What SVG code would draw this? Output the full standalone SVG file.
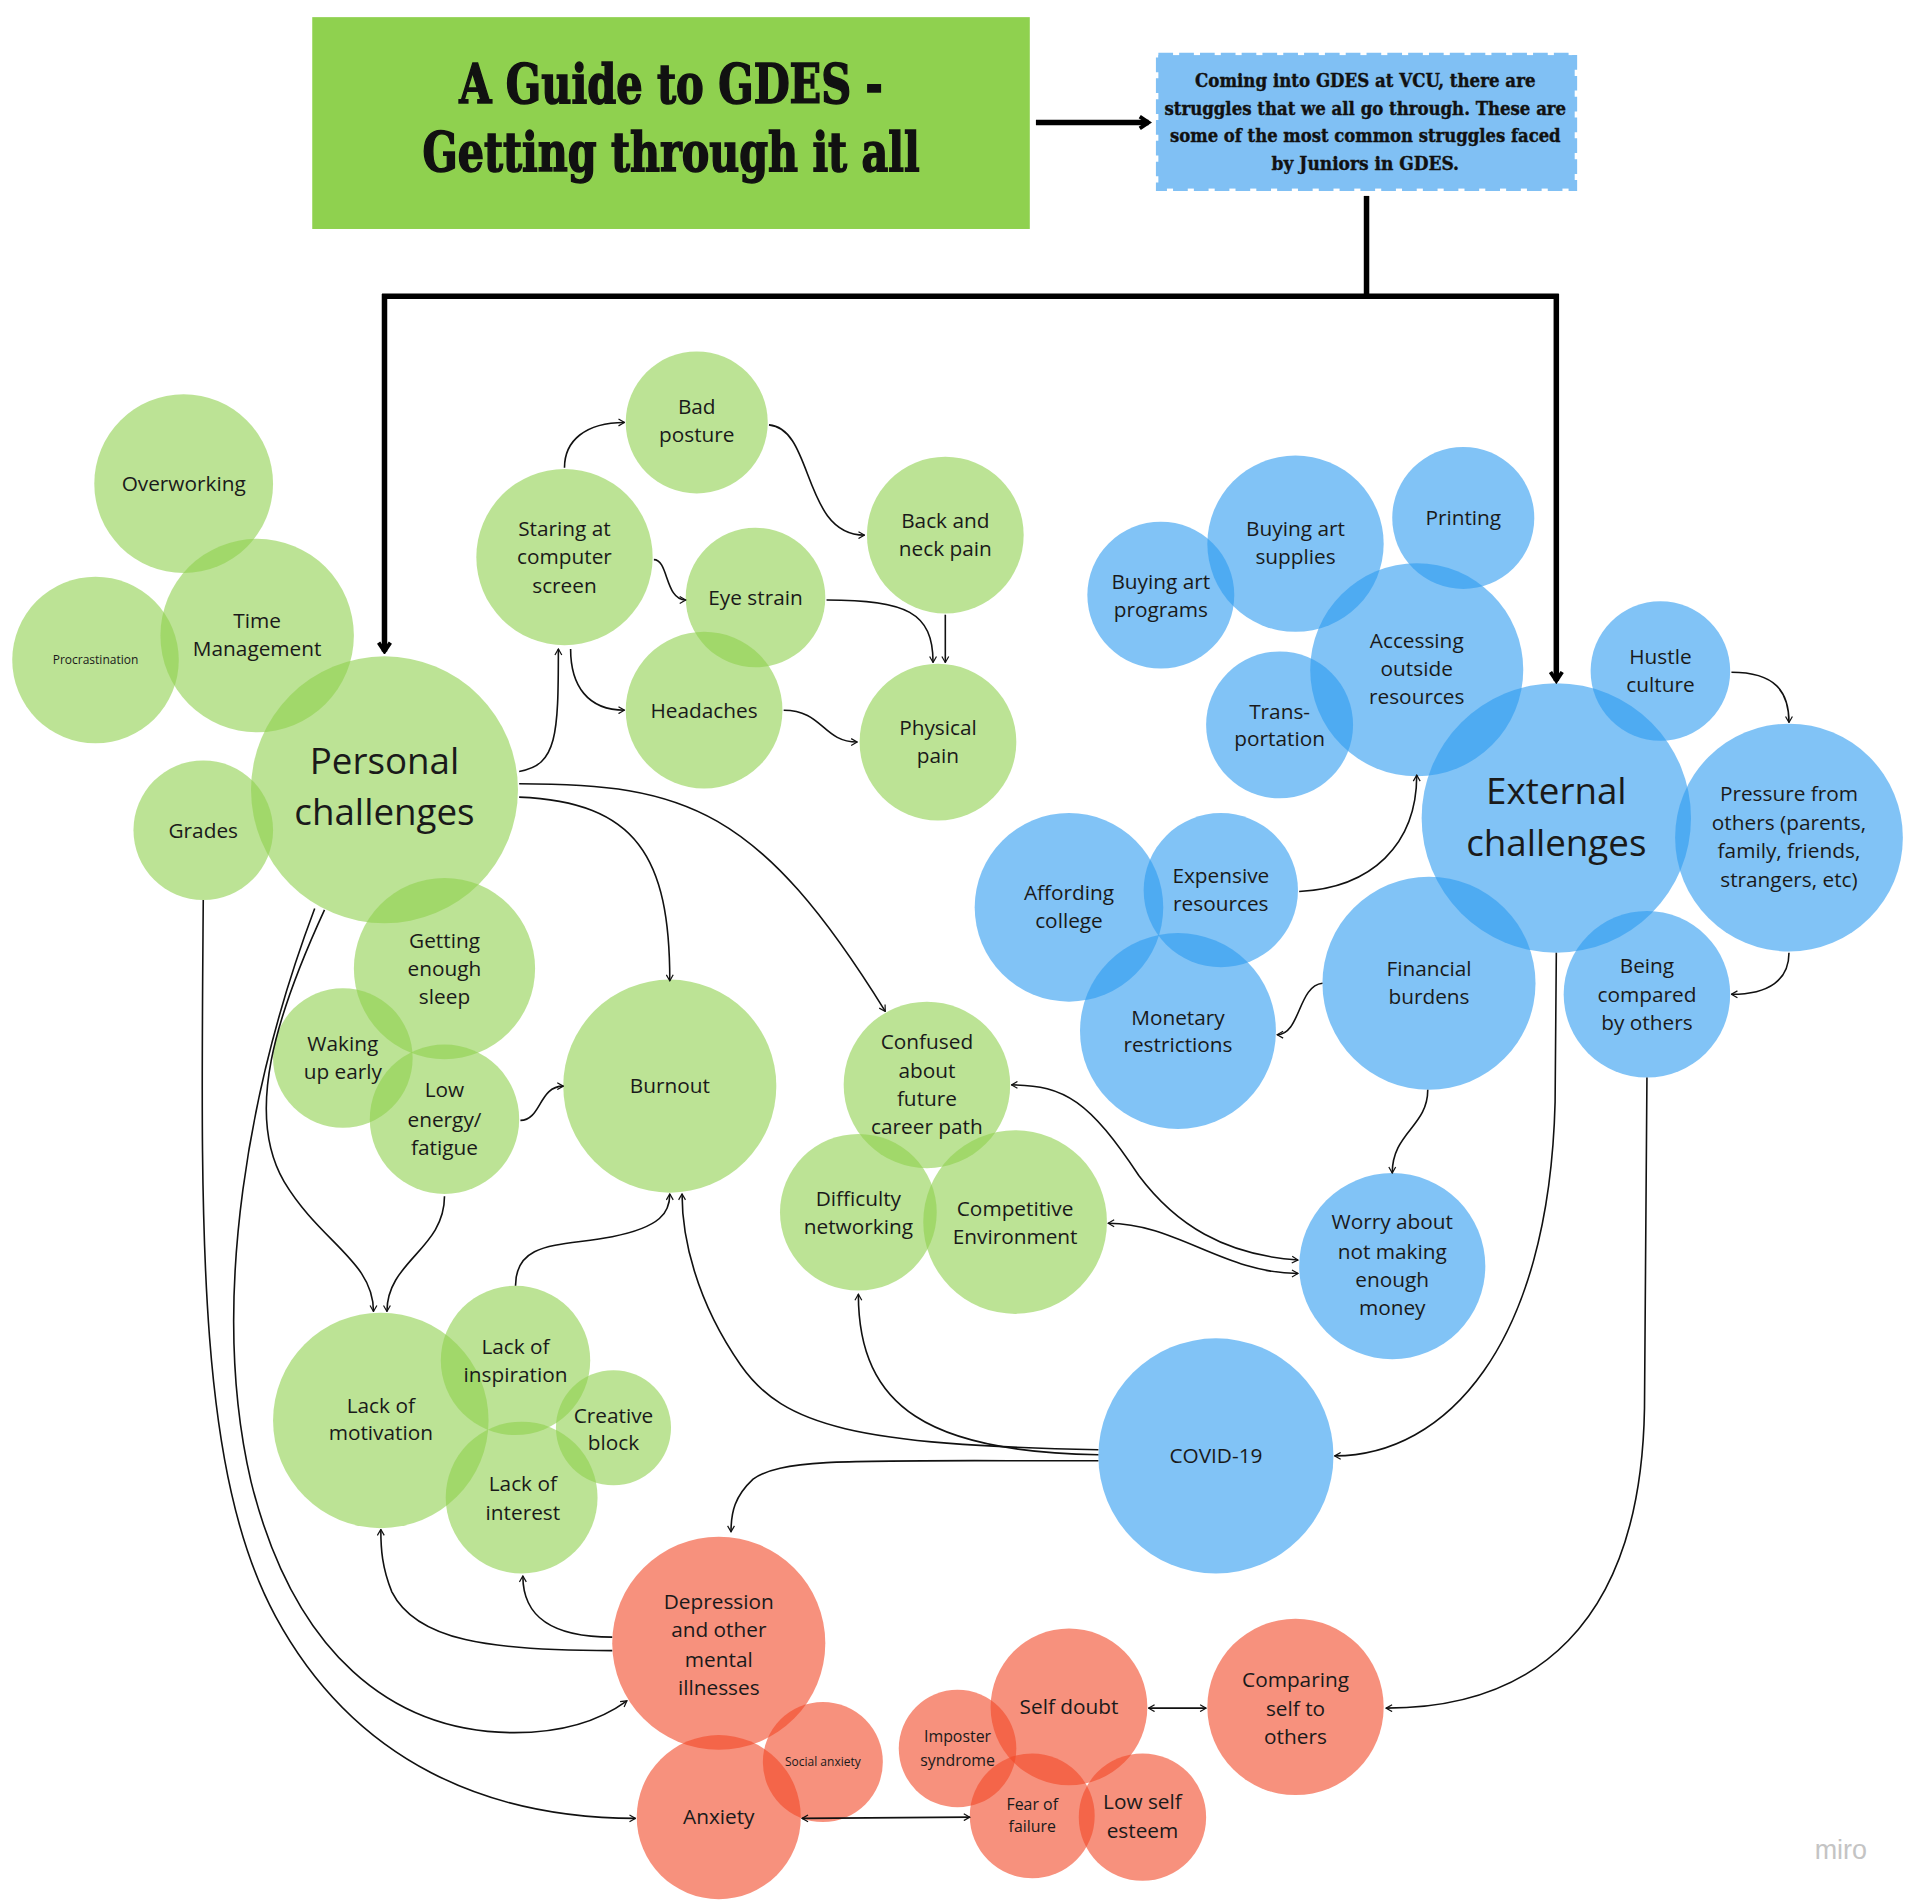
<svg xmlns="http://www.w3.org/2000/svg" width="1920" height="1904" viewBox="0 0 1920 1904">
<style>
.g{fill:#8fd14f;fill-opacity:.6}
.b{fill:#2d9bf0;fill-opacity:.6}
.r{fill:#f24726;fill-opacity:.6}
text{font-family:"Open Sans","Noto Sans",sans-serif;font-size:17px;fill:#1a1a1a;text-anchor:middle}
.big{font-size:30px}
.sm{font-size:13px}
.xs{font-size:9.8px}
.ser{font-family:"DejaVu Serif Condensed","DejaVu Serif","Liberation Serif",serif;font-weight:bold;fill:#111}
.t1{font-size:44px;stroke:#111;stroke-width:1.2}
.t2{font-size:15px;stroke:#111;stroke-width:.3}
.conn path{fill:none;stroke:#111;stroke-width:1.3}
.thick path{fill:none;stroke:#000;stroke-width:4.5}
.wm{font-family:"Liberation Sans",sans-serif;font-size:22px;fill:#c4c4c4;text-anchor:start}
</style>
<defs>
<marker id="a" viewBox="0 0 10 10" refX="9" refY="5" markerWidth="7" markerHeight="7" markerUnits="userSpaceOnUse" orient="auto-start-reverse"><path d="M2,1 L9,5 L2,9" fill="none" stroke="#111" stroke-width="1.4"/></marker>
<marker id="T" viewBox="0 0 10 10" refX="8" refY="5" markerWidth="12" markerHeight="12" markerUnits="userSpaceOnUse" orient="auto"><path d="M2,1 L8,5 L2,9" fill="none" stroke="#000" stroke-width="2.6"/></marker>
</defs>
<rect width="1920" height="1904" fill="#fff"/>
<g transform="scale(1.2244898)">
<g id="title">
<rect x="255" y="14" width="586" height="173" fill="#8fd14f"/>
<text class="ser t1" x="548" y="84" textLength="346" lengthAdjust="spacingAndGlyphs">A Guide to GDES -</text>
<text class="ser t1" x="548" y="140" textLength="406" lengthAdjust="spacingAndGlyphs">Getting through it all</text>
</g>
<g id="intro">
<rect x="946" y="45" width="340" height="109" fill="#80c0f4" stroke="#80c0f4" stroke-width="4" stroke-dasharray="12 5"/>
<text class="ser t2" x="1115" y="71" textLength="278" lengthAdjust="spacingAndGlyphs">Coming into GDES at VCU, there are</text>
<text class="ser t2" x="1115" y="94" textLength="328" lengthAdjust="spacingAndGlyphs">struggles that we all go through. These are</text>
<text class="ser t2" x="1115" y="116" textLength="319" lengthAdjust="spacingAndGlyphs">some of the most common struggles faced</text>
<text class="ser t2" x="1115" y="139" textLength="153" lengthAdjust="spacingAndGlyphs">by Juniors in GDES.</text>
</g>
<g id="n-overworking"><circle class="g" cx="150" cy="395" r="73"/><text x="150" y="401">Overworking</text></g>
<g id="n-time"><circle class="g" cx="210" cy="519" r="79"/><text x="210" y="513">Time</text><text x="210" y="536">Management</text></g>
<g id="n-procrastination"><circle class="g" cx="78" cy="539" r="68"/><text class="xs" x="78" y="542">Procrastination</text></g>
<g id="n-personal"><circle class="g" cx="314" cy="645" r="109"/><text class="big" x="314" y="632">Personal</text><text class="big" x="314" y="674">challenges</text></g>
<g id="n-grades"><circle class="g" cx="166" cy="678" r="57"/><text x="166" y="684">Grades</text></g>
<g id="n-sleep"><circle class="g" cx="363" cy="791" r="74"/><text x="363" y="774">Getting</text><text x="363" y="797">enough</text><text x="363" y="820">sleep</text></g>
<g id="n-waking"><circle class="g" cx="280" cy="864" r="57"/><text x="280" y="858">Waking</text><text x="280" y="881">up early</text></g>
<g id="n-lowenergy"><circle class="g" cx="363" cy="914" r="61"/><text x="363" y="896">Low</text><text x="363" y="920">energy/</text><text x="363" y="943">fatigue</text></g>
<g id="n-burnout"><circle class="g" cx="547" cy="887" r="87"/><text x="547" y="893">Burnout</text></g>
<g id="n-staring"><circle class="g" cx="461" cy="455" r="72"/><text x="461" y="438">Staring at</text><text x="461" y="461">computer</text><text x="461" y="484">screen</text></g>
<g id="n-posture"><circle class="g" cx="569" cy="345" r="58"/><text x="569" y="338">Bad</text><text x="569" y="361">posture</text></g>
<g id="n-eyestrain"><circle class="g" cx="617" cy="488" r="57"/><text x="617" y="494">Eye strain</text></g>
<g id="n-backneck"><circle class="g" cx="772" cy="437" r="64"/><text x="772" y="431">Back and</text><text x="772" y="454">neck pain</text></g>
<g id="n-headaches"><circle class="g" cx="575" cy="580" r="64"/><text x="575" y="586">Headaches</text></g>
<g id="n-physical"><circle class="g" cx="766" cy="606" r="64"/><text x="766" y="600">Physical</text><text x="766" y="623">pain</text></g>
<g id="n-confused"><circle class="g" cx="757" cy="886" r="68"/><text x="757" y="857">Confused</text><text x="757" y="880">about</text><text x="757" y="903">future</text><text x="757" y="926">career path</text></g>
<g id="n-networking"><circle class="g" cx="701" cy="990" r="64"/><text x="701" y="985">Difficulty</text><text x="701" y="1008">networking</text></g>
<g id="n-competitive"><circle class="g" cx="829" cy="998" r="75"/><text x="829" y="993">Competitive</text><text x="829" y="1016">Environment</text></g>
<g id="n-motivation"><circle class="g" cx="311" cy="1160" r="88"/><text x="311" y="1154">Lack of</text><text x="311" y="1176">motivation</text></g>
<g id="n-inspiration"><circle class="g" cx="421" cy="1111" r="61"/><text x="421" y="1106">Lack of</text><text x="421" y="1129">inspiration</text></g>
<g id="n-creative"><circle class="g" cx="501" cy="1166" r="47"/><text x="501" y="1162">Creative</text><text x="501" y="1184">block</text></g>
<g id="n-interest"><circle class="g" cx="426" cy="1223" r="62"/><text x="427" y="1218">Lack of</text><text x="427" y="1241">interest</text></g>
<g id="n-artprograms"><circle class="b" cx="948" cy="486" r="60"/><text x="948" y="481">Buying art</text><text x="948" y="504">programs</text></g>
<g id="n-artsupplies"><circle class="b" cx="1058" cy="444" r="72"/><text x="1058" y="438">Buying art</text><text x="1058" y="461">supplies</text></g>
<g id="n-printing"><circle class="b" cx="1195" cy="423" r="58"/><text x="1195" y="429">Printing</text></g>
<g id="n-accessing"><circle class="b" cx="1157" cy="547" r="87"/><text x="1157" y="529">Accessing</text><text x="1157" y="552">outside</text><text x="1157" y="575">resources</text></g>
<g id="n-transport"><circle class="b" cx="1045" cy="592" r="60"/><text x="1045" y="587">Trans-</text><text x="1045" y="609">portation</text></g>
<g id="n-external"><circle class="b" cx="1271" cy="668" r="110"/><text class="big" x="1271" y="657">External</text><text class="big" x="1271" y="699">challenges</text></g>
<g id="n-hustle"><circle class="b" cx="1356" cy="548" r="57"/><text x="1356" y="542">Hustle</text><text x="1356" y="565">culture</text></g>
<g id="n-pressure"><circle class="b" cx="1461" cy="684" r="93"/><text x="1461" y="654">Pressure from</text><text x="1461" y="678">others (parents,</text><text x="1461" y="701">family, friends,</text><text x="1461" y="724">strangers, etc)</text></g>
<g id="n-compared"><circle class="b" cx="1345" cy="812" r="68"/><text x="1345" y="795">Being</text><text x="1345" y="818">compared</text><text x="1345" y="841">by others</text></g>
<g id="n-financial"><circle class="b" cx="1167" cy="803" r="87"/><text x="1167" y="797">Financial</text><text x="1167" y="820">burdens</text></g>
<g id="n-affording"><circle class="b" cx="873" cy="741" r="77"/><text x="873" y="735">Affording</text><text x="873" y="758">college</text></g>
<g id="n-expensive"><circle class="b" cx="997" cy="727" r="63"/><text x="997" y="721">Expensive</text><text x="997" y="744">resources</text></g>
<g id="n-monetary"><circle class="b" cx="962" cy="842" r="80"/><text x="962" y="837">Monetary</text><text x="962" y="859">restrictions</text></g>
<g id="n-worry"><circle class="b" cx="1137" cy="1034" r="76"/><text x="1137" y="1004">Worry about</text><text x="1137" y="1028">not making</text><text x="1137" y="1051">enough</text><text x="1137" y="1074">money</text></g>
<g id="n-covid"><circle class="b" cx="993" cy="1189" r="96"/><text x="993" y="1195">COVID-19</text></g>
<g id="n-depression"><circle class="r" cx="587" cy="1342" r="87"/><text x="587" y="1314">Depression</text><text x="587" y="1337">and other</text><text x="587" y="1361">mental</text><text x="587" y="1384">illnesses</text></g>
<g id="n-social"><circle class="r" cx="672" cy="1439" r="49"/><text class="xs" x="672" y="1442">Social anxiety</text></g>
<g id="n-anxiety"><circle class="r" cx="587" cy="1484" r="67"/><text x="587" y="1490">Anxiety</text></g>
<g id="n-imposter"><circle class="r" cx="782" cy="1428" r="48"/><text class="sm" x="782" y="1423">Imposter</text><text class="sm" x="782" y="1442">syndrome</text></g>
<g id="n-selfdoubt"><circle class="r" cx="873" cy="1394" r="64"/><text x="873" y="1400">Self doubt</text></g>
<g id="n-fear"><circle class="r" cx="843" cy="1483" r="51"/><text class="sm" x="843" y="1478">Fear of</text><text class="sm" x="843" y="1496">failure</text></g>
<g id="n-lowesteem"><circle class="r" cx="933" cy="1484" r="52"/><text x="933" y="1477">Low self</text><text x="933" y="1501">esteem</text></g>
<g id="n-comparing"><circle class="r" cx="1058" cy="1394" r="72"/><text x="1058" y="1378">Comparing</text><text x="1058" y="1401">self to</text><text x="1058" y="1424">others</text></g>
<g class="thick" id="main-connectors">
<path d="M846,100 H938" marker-end="url(#T)"/>
<path d="M1116,160 V242"/>
<path d="M312,242 H1273"/>
<path d="M314,240 V532" marker-end="url(#T)"/>
<path d="M1271,240 V556" marker-end="url(#T)"/>
</g>
<g class="conn" id="connectors">
<path d="M461,382 C461,360 478,345 510,345" marker-end="url(#a)"/>
<path d="M628,347 C665,350 655,437 706,437" marker-end="url(#a)"/>
<path d="M534,457 C546,457 543,490 560,490" marker-end="url(#a)"/>
<path d="M675,490 C740,490 762,500 762,541" marker-end="url(#a)"/>
<path d="M772,502 V541" marker-end="url(#a)"/>
<path d="M466,530 C466,560 480,580 510,580" marker-end="url(#a)"/>
<path d="M640,580 C672,580 672,606 700,606" marker-end="url(#a)"/>
<path d="M424,630 C455,625 456,600 456,530" marker-end="url(#a)"/>
<path d="M424,651 C520,655 547,700 547,801" marker-end="url(#a)"/>
<path d="M424,640 C560,640 620,660 723,826" marker-end="url(#a)"/>
<path d="M425,915 C442,915 440,887 460,887" marker-end="url(#a)"/>
<path d="M363,977 C363,1020 316,1030 316,1071" marker-end="url(#a)"/>
<path d="M265,743 C225,830 200,910 232,965 C262,1015 305,1030 305,1071" marker-end="url(#a)"/>
<path d="M257,742 C205,880 170,1060 205,1210 C240,1350 320,1415 420,1415 C460,1415 490,1405 512,1389" marker-end="url(#a)"/>
<path d="M166,735 C164,1000 160,1200 225,1320 C290,1440 400,1485 519,1485" marker-end="url(#a)"/>
<path d="M421,1050 C421,1012 460,1018 500,1010 C540,1002 547,990 547,975" marker-end="url(#a)"/>
<path d="M897,1184 C700,1180 640,1165 605,1115 C568,1062 557,1010 557,975" marker-end="url(#a)"/>
<path d="M897,1188 C760,1186 701,1150 701,1057" marker-end="url(#a)"/>
<path d="M897,1193 C700,1193 640,1190 615,1208 C600,1222 597,1235 597,1251" marker-end="url(#a)"/>
<path d="M500,1348 C400,1348 340,1340 320,1300 C312,1280 311,1265 311,1249" marker-end="url(#a)"/>
<path d="M500,1337 C450,1337 427,1320 427,1287" marker-end="url(#a)"/>
<path d="M655,1485 L792,1484" marker-start="url(#a)" marker-end="url(#a)"/>
<path d="M938,1395 H985" marker-start="url(#a)" marker-end="url(#a)"/>
<path d="M1345,880 L1343,1150 C1340,1330 1250,1395 1132,1395" marker-end="url(#a)"/>
<path d="M1271,778 L1270,900 C1265,1100 1180,1189 1090,1189" marker-end="url(#a)"/>
<path d="M1414,549 C1450,549 1461,565 1461,590" marker-end="url(#a)"/>
<path d="M1461,778 C1461,800 1445,812 1414,812" marker-end="url(#a)"/>
<path d="M1080,803 C1060,805 1062,845 1043,845" marker-end="url(#a)"/>
<path d="M1061,728 C1120,725 1157,690 1157,633" marker-end="url(#a)"/>
<path d="M1166,890 C1166,920 1137,925 1137,958" marker-end="url(#a)"/>
<path d="M1060,1029 C1000,1025 960,1000 930,960 C890,900 870,886 826,886" marker-start="url(#a)" marker-end="url(#a)"/>
<path d="M1060,1040 C1000,1040 960,999 905,999" marker-start="url(#a)" marker-end="url(#a)"/>
</g>
<text class="wm" x="1482" y="1518">miro</text>
</g>
</svg>
